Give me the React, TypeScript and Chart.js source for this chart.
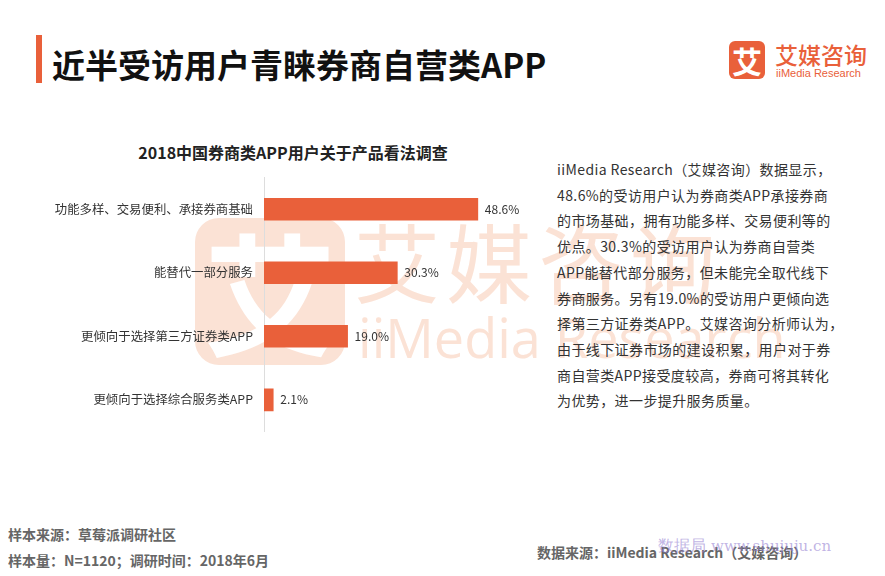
import React, { useEffect, useRef } from "react";
import { Chart, registerables } from "chart.js";

Chart.register(...registerables);

const categories = [
  "功能多样、交易便利、承接券商基础",
  "能替代一部分服务",
  "更倾向于选择第三方证券类APP",
  "更倾向于选择综合服务类APP",
];
const values = [48.6, 30.3, 19.0, 2.1];
const chartTitle = "2018中国券商类APP用户关于产品看法调查";
const pageTitle = "近半受访用户青睐券商自营类APP";
const paragraphLines = [
  "iiMedia Research（艾媒咨询）数据显示，",
  "48.6%的受访用户认为券商类APP承接券商",
  "的市场基础，拥有功能多样、交易便利等的",
  "优点。30.3%的受访用户认为券商自营类",
  "APP能替代部分服务，但未能完全取代线下",
  "券商服务。另有19.0%的受访用户更倾向选",
  "择第三方证券类APP。艾媒咨询分析师认为，",
  "由于线下证券市场的建设积累，用户对于券",
  "商自营类APP接受度较高，券商可将其转化",
  "为优势，进一步提升服务质量。",
];

const ORANGE = "#E9603A";
const FONT = "'Noto Sans CJK SC', 'Noto Sans', sans-serif";

const valueLabels = {
  id: "valueLabels",
  afterDatasetsDraw(chart: any) {
    const ctx = chart.ctx;
    const meta = chart.getDatasetMeta(0);
    ctx.save();
    ctx.font = `12px ${FONT}`;
    ctx.fillStyle = "#333";
    ctx.textBaseline = "middle";
    ctx.textAlign = "left";
    meta.data.forEach((bar: any, i: number) => {
      ctx.fillText(values[i].toFixed(1) + "%", bar.x + 7, bar.y);
    });
    ctx.restore();
  },
};

function BarChart() {
  const ref = useRef<HTMLCanvasElement>(null);
  useEffect(() => {
    const chart = new Chart(ref.current!, {
      type: "bar",
      data: {
        labels: categories,
        datasets: [
          {
            data: values,
            backgroundColor: ORANGE,
            barThickness: 22,
          },
        ],
      },
      options: {
        indexAxis: "y",
        animation: false,
        responsive: false,
        maintainAspectRatio: false,
        layout: { padding: { top: 0, bottom: 0, right: 12, left: 0 } },
        plugins: {
          legend: { display: false },
          tooltip: { enabled: false },
          title: { display: false },
        },
        scales: {
          x: {
            display: false,
            min: 0,
            max: 60,
          },
          y: {
            grid: { display: false, drawTicks: false },
            border: { display: true, color: "#dddddd", width: 1 },
            ticks: {
              padding: 11,
              color: "#333",
              font: { size: 12.4, family: FONT },
            },
            afterFit(scale: any) {
              scale.width = 224;
            },
          },
        },
      },
      plugins: [valueLabels],
    });
    return () => chart.destroy();
  }, []);
  return (
    <canvas
      ref={ref}
      width={500}
      height={291}
      style={{ position: "absolute", left: 40, top: 159, width: 500, height: 291 }}
    />
  );
}

export default function App() {
  const wm = "#fbe2d5";
  return (
    <div
      style={{
        position: "fixed",
        left: 0,
        top: 0,
        width: 885,
        height: 576,
        background: "#fff",
        overflow: "hidden",
        fontFamily: FONT,
      }}
    >
      {/* watermark */}
      <div
        style={{
          position: "absolute",
          left: 195,
          top: 218,
          width: 150,
          height: 147,
          borderRadius: 24,
          background: wm,
        }}
      >
        <div
          style={{
            position: "absolute",
            left: 0,
            top: -14,
            width: 150,
            textAlign: "center",
            fontSize: 132,
            fontWeight: 700,
            color: "#fff",
            lineHeight: "170px",
          }}
        >
          艾
        </div>
      </div>
      <div
        style={{
          position: "absolute",
          left: 354,
          top: 205,
          fontSize: 86,
          fontWeight: 400,
          letterSpacing: 6,
          color: wm,
          lineHeight: "110px",
          whiteSpace: "nowrap",
        }}
      >
        艾媒咨询
      </div>
      <div
        style={{
          position: "absolute",
          left: 358,
          top: 302,
          fontSize: 54,
          color: wm,
          lineHeight: "70px",
          whiteSpace: "nowrap",
          fontFamily: "'Open Sans', sans-serif",
        }}
      >
        iiMedia Research
      </div>

      {/* header */}
      <div style={{ position: "absolute", left: 36, top: 35, width: 6, height: 48, background: ORANGE }} />
      <div
        style={{
          position: "absolute",
          left: 52,
          top: 42,
          fontSize: 33,
          fontWeight: 700,
          color: "#111",
          lineHeight: "44px",
          whiteSpace: "nowrap",
        }}
      >
        {pageTitle}
      </div>
      {/* logo */}
      <div
        style={{
          position: "absolute",
          left: 729,
          top: 41,
          width: 36,
          height: 38,
          borderRadius: 6,
          background: ORANGE,
          color: "#fff",
          fontSize: 30,
          fontWeight: 700,
          textAlign: "center",
          lineHeight: "38px",
        }}
      >
        艾
      </div>
      <div
        style={{
          position: "absolute",
          left: 775,
          top: 40,
          fontSize: 23,
          fontWeight: 500,
          color: ORANGE,
          lineHeight: "28px",
          whiteSpace: "nowrap",
        }}
      >
        艾媒咨询
      </div>
      <div
        style={{
          position: "absolute",
          left: 776,
          top: 67,
          fontSize: 11,
          color: ORANGE,
          lineHeight: "13px",
          whiteSpace: "nowrap",
          fontFamily: "'Liberation Sans', sans-serif",
        }}
      >
        iiMedia Research
      </div>

      {/* chart title */}
      <div
        style={{
          position: "absolute",
          left: 40,
          top: 141,
          width: 506,
          textAlign: "center",
          fontSize: 16,
          fontWeight: 700,
          color: "#222",
          lineHeight: "22px",
          whiteSpace: "nowrap",
        }}
      >
        {chartTitle}
      </div>

      <BarChart />

      {/* paragraph */}
      <div
        style={{
          position: "absolute",
          left: 557,
          top: 157,
          fontSize: 14,
          letterSpacing: 0.4,
          color: "#333",
          lineHeight: "25.7px",
          whiteSpace: "nowrap",
        }}
      >
        {paragraphLines.map((l, i) => (
          <div key={i}>{l}</div>
        ))}
      </div>

      {/* footer */}
      <div
        style={{
          position: "absolute",
          left: 8,
          top: 521,
          fontSize: 14,
          fontWeight: 700,
          color: "#666",
          lineHeight: "26px",
          whiteSpace: "nowrap",
        }}
      >
        <div>样本来源：草莓派调研社区</div>
        <div>样本量：N=1120；调研时间：2018年6月</div>
      </div>
      <div
        style={{
          position: "absolute",
          left: 537,
          top: 541,
          fontSize: 14,
          fontWeight: 700,
          color: "#666",
          lineHeight: "22px",
          whiteSpace: "nowrap",
        }}
      >
        数据来源：iiMedia Research（艾媒咨询）
      </div>
      <div
        style={{
          position: "absolute",
          left: 658,
          top: 536,
          fontSize: 16,
          color: "rgba(150,130,210,0.6)",
          lineHeight: "20px",
          whiteSpace: "nowrap",
          fontFamily: "'DejaVu Serif', serif",
        }}
      >
        数据局 <span style={{ fontSize: 15 }}>www.shujuju.cn</span>
      </div>
    </div>
  );
}
